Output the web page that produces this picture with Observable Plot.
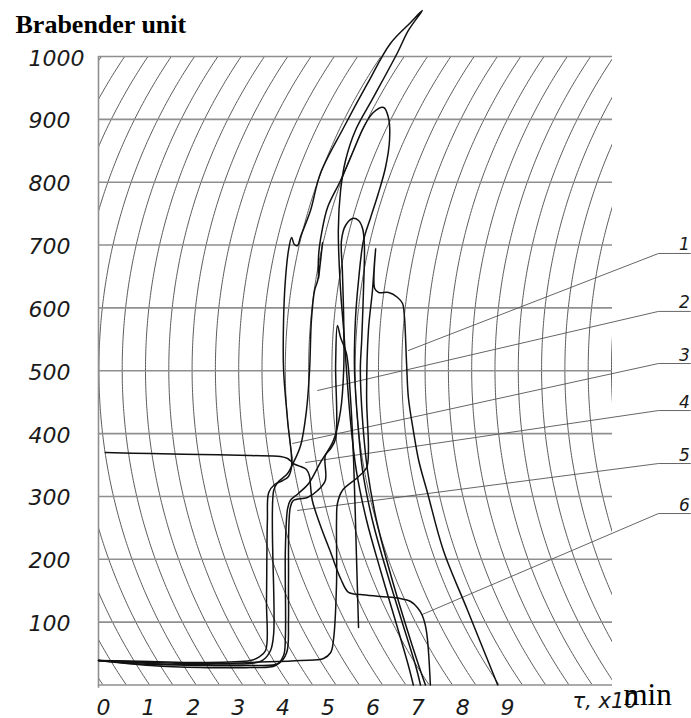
<!DOCTYPE html>
<html><head><meta charset="utf-8">
<script src="https://cdn.jsdelivr.net/npm/d3@7"></script>
<script src="https://cdn.jsdelivr.net/npm/@observablehq/plot@0.6"></script>
<style>
html,body{margin:0;padding:0;background:#fff;}
#chart svg{display:block;overflow:visible;}
</style></head>
<body><div id="chart"></div>
<script>
// ---- tick labels / grid levels ----
const yTicks = [100, 200, 300, 400, 500, 600, 700, 800, 900, 1000];
const xTicks = [0, 1, 2, 3, 4, 5, 6, 7, 8, 9];
const gridLevels = [0, 100, 200, 300, 400, 500, 600, 700, 800, 900, 1000];

// ---- curves: [time (x10 min), Brabender units] ----
const curve1 = [[-0.11,39.0],[1.05,32.6],[2.16,32.6],[3.27,35.8],[4.39,39.0],[4.90,42.2],[5.06,51.7],[5.12,70.8],[5.19,161.5],[5.19,261.7],[5.21,288.8],[5.32,309.5],[5.66,330.2],[5.86,346.1],[5.90,373.1],[5.86,457.4],[5.90,564.1],[5.99,627.7],[6.06,694.5],[6.04,630.9],[6.13,624.5],[6.35,624.5],[6.55,616.6],[6.66,607.0],[6.70,587.9],[6.75,511.5],[6.79,457.4],[6.90,404.9],[7.02,357.2],[7.22,304.7],[7.57,214.0],[8.11,118.5],[8.78,0]];
const curve2 = [[-0.11,39.0],[1.05,37.4],[2.16,35.8],[3.27,39.0],[3.45,43.8],[3.61,54.9],[3.63,134.4],[3.65,261.7],[3.68,306.3],[3.81,319.0],[3.99,325.4],[4.12,331.7],[4.19,349.2],[4.10,420.8],[4.01,502.0],[4.01,580.0],[4.05,643.6],[4.12,691.4],[4.19,712.0],[4.25,700.9],[4.32,699.3],[4.39,713.6],[4.61,755.0],[4.83,813.9],[5.35,887.0],[5.88,957.1],[6.39,1020.7],[6.84,1054.1],[7.10,1073.2],[6.79,1041.4],[6.55,1006.4],[6.01,934.8],[5.61,882.3],[5.39,834.6],[5.28,786.8],[5.23,723.2],[5.28,627.7],[5.35,564.1],[5.41,502.0],[5.50,420.8],[5.63,341.3],[5.86,261.7],[6.17,182.2],[6.50,102.6],[6.79,31.0],[6.90,0]];
const curve3 = [[-0.11,39.0],[1.05,35.8],[2.16,34.2],[3.27,34.2],[3.54,39.0],[3.72,54.9],[3.79,81.9],[3.79,309.5],[3.88,322.2],[4.10,336.5],[4.23,354.0],[4.39,381.1],[4.52,436.7],[4.59,502.0],[4.63,580.0],[4.70,627.7],[4.77,643.6],[4.88,704.1],[4.81,659.5],[4.79,646.8],[4.79,683.4],[4.86,720.0],[4.99,759.8],[5.28,802.7],[5.57,850.5],[5.79,887.0],[6.01,910.9],[6.24,918.9],[6.35,901.4],[6.37,866.4],[6.28,823.4],[6.12,782.0],[5.95,743.9],[5.79,707.3],[5.68,643.6],[5.61,580.0],[5.59,502.0],[5.66,420.8],[5.77,341.3],[5.99,261.7],[6.30,182.2],[6.64,102.6],[6.95,31.0],[7.06,0]];
const curve4 = [[-0.11,39.0],[1.05,31.0],[2.16,27.8],[3.27,27.8],[3.83,31.0],[4.01,46.9],[4.05,75.6],[4.05,214.0],[4.10,280.8],[4.16,293.6],[4.34,304.7],[4.57,320.6],[4.83,354.0],[5.12,389.0],[5.28,436.7],[5.35,502.0],[5.35,580.0],[5.32,659.5],[5.30,707.3],[5.39,731.1],[5.55,742.3],[5.68,739.1],[5.77,726.3],[5.81,699.3],[5.79,627.7],[5.75,548.2],[5.72,502.0],[5.77,420.8],[5.88,341.3],[6.08,261.7],[6.37,182.2],[6.70,102.6],[7.02,31.0],[7.17,0]];
const curve5 = [[-0.11,39.0],[1.05,34.2],[2.16,31.0],[3.27,31.0],[3.90,34.2],[4.08,51.7],[4.12,102.6],[4.12,161.5],[4.16,282.4],[4.23,293.6],[4.54,298.3],[4.77,309.5],[4.94,325.4],[4.94,365.1],[5.06,376.3],[5.17,392.2],[5.17,511.5],[5.21,572.0],[5.28,552.9],[5.41,527.5],[5.50,457.4],[5.57,357.2],[5.63,214.0],[5.68,91.5]];
const curve6 = [[0.04,369.9],[1.05,368.3],[2.16,366.7],[3.27,365.1],[3.94,363.6],[4.10,360.4],[4.23,352.4],[4.39,347.6],[4.52,342.9],[4.59,331.7],[4.61,317.4],[4.65,293.6],[4.83,253.8],[5.06,210.8],[5.28,169.5],[5.46,147.2],[5.72,144.0],[6.17,140.8],[6.61,137.6],[6.84,132.9],[6.99,123.3],[7.10,110.6],[7.19,86.7],[7.28,0]];

// ---- curve labels and leader lines ----
const leaderNames = ["1", "2", "3", "4", "5", "6"];
const leaderLevel = [686.6, 594.4, 511.5, 436.7, 352.4, 272.8];
const leaderEndT = [6.79, 4.77, 4.21, 4.50, 4.32, 7.10];
const leaderEndV = [532.2, 468.6, 384.3, 354.0, 277.7, 112.2];
const leaderStartT = 12.36, leaderStopT = 13.07, leaderLabelT = 12.94;

// ---- chart-paper geometry (arc grid of the recorder pen) ----
const PX_PER_T = 44.9, PX_PER_BU = 0.6285;
const ARC_RADIUS_PX = 560, ARC_CENTER_BU = 502, ARC_T0 = 0.4165, ARC_STEP = 0.5189;
const arcIndex = d3.range(-6, 22);
const arcLevels = d3.range(0, 1001, 5);
const arcs = arcIndex.flatMap(k => arcLevels.map(v => {
  const h = (ARC_CENTER_BU - v) * PX_PER_BU;
  const d = ARC_RADIUS_PX - Math.sqrt(ARC_RADIUS_PX * ARC_RADIUS_PX - h * h);
  return {k, t: ARC_T0 + k * ARC_STEP + d / PX_PER_T, v};
}));

const curves = [curve1, curve2, curve3, curve4, curve5, curve6];
const curveTable = curves.flatMap((pts, i) => pts.map(([t, v]) => ({id: i + 1, t, v})));
const leaderTable = leaderNames.flatMap((n, i) => [
  {id: n, t: leaderEndT[i], v: leaderEndV[i]},
  {id: n, t: leaderStartT, v: leaderLevel[i]},
  {id: n, t: leaderStopT, v: leaderLevel[i]}
]);
const labelTable = leaderNames.map((n, i) => ({n, t: leaderLabelT, v: leaderLevel[i]}));

const xDomain = [-0.1114, 11.336];
const tickFont = "DejaVu Sans";

const chart = Plot.plot({
  width: 691, height: 718,
  marginLeft: 98, marginRight: 79, marginTop: 56, marginBottom: 33.5,
  x: {domain: xDomain, axis: null},
  y: {domain: [0, 1000], axis: null},
  style: {background: "#fff"},
  marks: [
    Plot.line(arcs, {x: "t", y: "v", z: "k", stroke: "#5c5c5c", strokeWidth: 1, clip: true}),
    Plot.ruleY(gridLevels, {stroke: "#8f8f8f", strokeWidth: 1.6}),
    Plot.ruleX([xDomain[0]], {y1: -5, y2: 1000, stroke: "#8f8f8f", strokeWidth: 1.6}),
    Plot.line(leaderTable, {x: "t", y: "v", z: "id", stroke: "#555", strokeWidth: 0.9}),
    Plot.line(curveTable, {x: "t", y: "v", z: "id", stroke: "#111", strokeWidth: 1.5, curve: "catmull-rom"}),
    Plot.text(yTicks, {x: xDomain[0], y: d => d, text: d => String(d), textAnchor: "start", dx: -70, dy: 2,
      fontFamily: tickFont, fontStyle: "italic", fontSize: 22, fill: "#1a1a1a"}),
    Plot.text(xTicks, {x: d => d, y: 0, text: d => String(d), dy: 22.5,
      fontFamily: tickFont, fontStyle: "italic", fontSize: 22, fill: "#1a1a1a"}),
    Plot.text(labelTable, {x: "t", y: "v", text: "n", dy: -3, lineAnchor: "bottom",
      fontFamily: tickFont, fontStyle: "italic", fontSize: 17, fill: "#1a1a1a"}),
    Plot.text(["Brabender unit"], {frameAnchor: "top-left", dx: -83, dy: -24, textAnchor: "start", lineAnchor: "bottom",
      fontFamily: "Liberation Serif", fontWeight: "bold", fontSize: 26, fill: "#000"}),
    Plot.text(["τ, x10"], {frameAnchor: "bottom-right", dx: -40, dy: 22.5, textAnchor: "start",
      fontFamily: tickFont, fontStyle: "italic", fontSize: 21, fill: "#1a1a1a"}),
    Plot.text(["min"], {frameAnchor: "bottom-right", dx: 11, dy: 19.5, textAnchor: "start", lineAnchor: "bottom",
      fontFamily: "Liberation Serif", fontSize: 31, fill: "#000"})
  ]
});
document.getElementById("chart").appendChild(chart);
</script>
</body></html>
